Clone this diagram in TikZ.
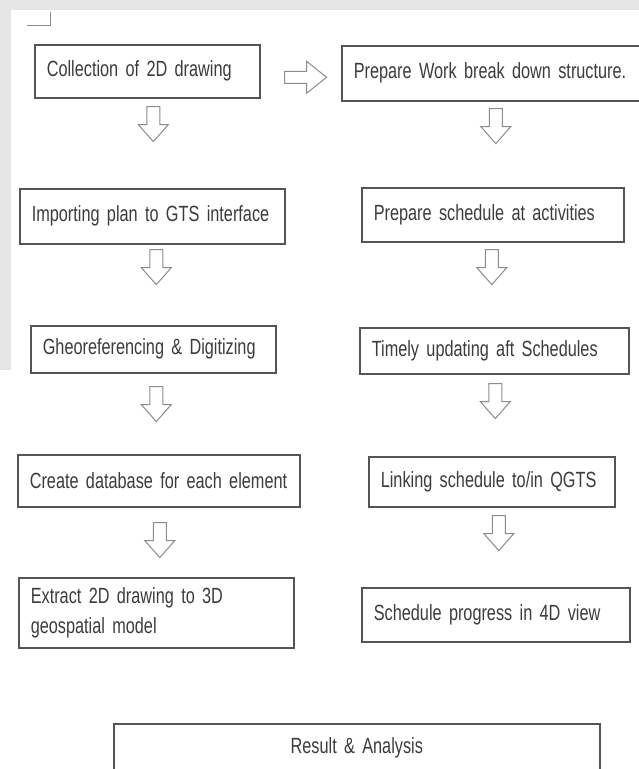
\documentclass[tikz,border=0pt]{standalone}
\usepackage{fontspec}
\setmainfont{Liberation Sans}[FakeStretch=0.74]
\usetikzlibrary{calc}

\definecolor{boxline}{HTML}{555555}
\definecolor{boxtext}{HTML}{3C3C3C}
\definecolor{arrowline}{HTML}{8C8C8C}
\definecolor{wmgrey}{HTML}{E6E6E6}

\newcommand{\boxfont}{\fontsize{22}{30}\selectfont}

\tikzset{
  stepbox/.style={draw=boxline, line width=1.6pt, text=boxtext, rectangle,
    anchor=north west, inner xsep=12pt, inner ysep=0pt, align=left,
    font=\boxfont},
  blockarrow/.style={draw=arrowline, line width=1pt, fill=white, line join=miter},
  downblock/.pic={\draw[blockarrow] (-6.5,0) -- (-6.5,18) -- (-15,18) -- (0,35)
    -- (15,18) -- (6.5,18) -- (6.5,0) -- cycle;},
  rightblock/.pic={\draw[blockarrow] (0,-6) -- (22,-6) -- (22,-16) -- (42,0)
    -- (22,16) -- (22,6) -- (0,6) -- cycle;}
}

\begin{document}
\begin{tikzpicture}[x=1pt,y=-1pt]
  \useasboundingbox (0,0) rectangle (639,769);
  \clip (0,0) rectangle (639,769);
  \fill[white] (0,0) rectangle (639,769);
  \fill[wmgrey] (0,0) rectangle (639,10);
  \fill[wmgrey] (0,10) rectangle (11,370);
  \draw[arrowline, line width=1pt] (27,25) -- (50,25) -- (50,12);

  % left column
  \node[stepbox, minimum height=53pt, text width=201pt] (a1) at (34,44) {\mbox{Collection of 2D drawing}};
  \node[stepbox, minimum height=55pt, text width=241pt] (a2) at (19,188) {\mbox{Importing plan to GTS interface}};
  \node[stepbox, minimum height=47pt, text width=221pt] (a3) at (30,325) {\mbox{Gheoreferencing \& Digitizing}};
  \node[stepbox, minimum height=52pt, text width=258pt] (a4) at (17,454) {\mbox{Create database for each element}};
  \node[stepbox, minimum height=70pt, text width=251pt] (a5) at (18,577) {Extract 2D drawing to 3D\\geospatial model};

  % right column
  \node[stepbox, minimum height=55pt, text width=274pt] (b1) at (341,45) {\mbox{Prepare Work break down structure.}};
  \node[stepbox, minimum height=54pt, text width=238pt] (b2) at (361,187) {\mbox{Prepare schedule at activities}};
  \node[stepbox, minimum height=46pt, text width=245pt] (b3) at (359,327) {\mbox{Timely updating aft Schedules}};
  \node[stepbox, minimum height=50pt, text width=222pt] (b4) at (368,456) {\mbox{Linking schedule to/in QGTS}};
  \node[stepbox, minimum height=54pt, text width=244pt] (b5) at (361,587) {\mbox{Schedule progress in 4D view}};

  \node[stepbox, align=center, minimum height=48pt, text width=462pt] (res) at (113,723) {Result \& Analysis};

  % hollow arrows
  \pic at ($(a1.east)+(24,6)$) {rightblock};
  \pic at ($(a1.south)+(6,8)$) {downblock};
  \pic at ($(a2.south)+(4,5)$) {downblock};
  \pic at ($(a3.south)+(3,13)$) {downblock};
  \pic at ($(a4.south)+(1,15)$) {downblock};
  \pic at ($(b1.south)+(5,7)$) {downblock};
  \pic at ($(b2.south)+(-1,7)$) {downblock};
  \pic at ($(b3.south)+(1,9)$) {downblock};
  \pic at ($(b4.south)+(7,8)$) {downblock};
\end{tikzpicture}
\end{document}
